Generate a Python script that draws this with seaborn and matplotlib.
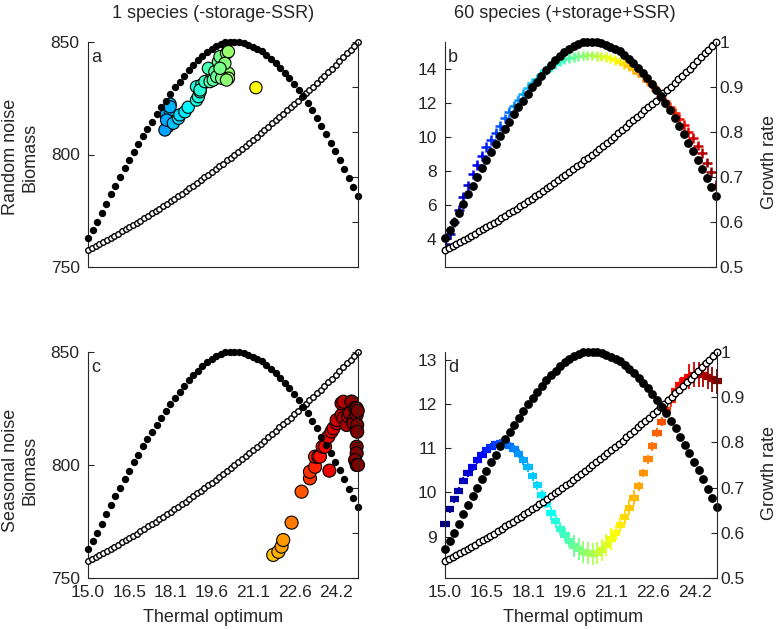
import numpy as np
import matplotlib
matplotlib.use("Agg")
import matplotlib.pyplot as plt
from matplotlib.colors import LinearSegmentedColormap
import seaborn as sns

# thermal optimum grids (evenly spaced species / growth curve samples)
species_x = np.linspace(15, 25, 60)
curve_x = np.linspace(15, 25, 73)

# growth rate of each species at the mean temperature (black dots, right axis)
growth_species = [0.564, 0.582, 0.600, 0.620, 0.641, 0.662, 0.681, 0.700, 0.719, 0.737,
                  0.756, 0.773, 0.791, 0.807, 0.823, 0.839, 0.855, 0.870, 0.885, 0.899,
                  0.912, 0.925, 0.937, 0.949, 0.959, 0.969, 0.978, 0.985, 0.991, 0.996,
                  0.999, 1.000, 1.000, 0.999, 0.997, 0.994, 0.990, 0.985, 0.979, 0.971,
                  0.963, 0.953, 0.943, 0.932, 0.920, 0.907, 0.893, 0.879, 0.864, 0.848,
                  0.831, 0.813, 0.795, 0.776, 0.757, 0.738, 0.718, 0.698, 0.678, 0.658]

# maximal growth rate vs thermal optimum (open circles, right axis)
growth_max = [0.538, 0.542, 0.547, 0.551, 0.556, 0.560, 0.565, 0.569, 0.574, 0.579,
              0.584, 0.588, 0.593, 0.598, 0.603, 0.609, 0.614, 0.619, 0.624, 0.630,
              0.635, 0.641, 0.646, 0.652, 0.657, 0.663, 0.669, 0.675, 0.681, 0.687,
              0.693, 0.699, 0.705, 0.711, 0.717, 0.724, 0.730, 0.737, 0.743, 0.750,
              0.756, 0.763, 0.770, 0.776, 0.783, 0.790, 0.797, 0.804, 0.811, 0.819,
              0.826, 0.833, 0.840, 0.848, 0.855, 0.863, 0.870, 0.878, 0.886, 0.894,
              0.901, 0.909, 0.917, 0.925, 0.933, 0.941, 0.950, 0.958, 0.966, 0.975,
              0.983, 0.992, 1.000]

# panel a: 1 species, random noise
a_opt = [18.04, 17.89, 17.96, 17.85, 18.06, 18.10, 17.91, 18.16, 18.04, 18.35,
         18.40, 18.59, 18.71, 19.02, 19.02, 19.09, 19.21, 19.15, 19.15, 19.33,
         19.52, 19.58, 19.64, 19.46, 19.70, 19.77, 19.83, 19.89, 20.13, 20.20,
         20.01, 20.20, 20.20, 19.95, 20.07, 19.89, 20.13, 21.22]
a_bio = [822.4, 817.6, 812.4, 810.9, 818.3, 814.6, 815.3, 813.9, 821.2, 816.1,
         817.6, 819.0, 821.0, 830.1, 824.2, 825.7, 830.9, 827.9, 828.7, 832.4,
         832.4, 836.8, 833.1, 838.3, 836.8, 834.6, 841.2, 843.5, 845.0, 845.7,
         837.6, 836.1, 833.9, 833.9, 840.5, 838.3, 833.1, 829.7]

# panel c: 1 species, seasonal noise
c_opt = [21.86, 22.05, 22.17, 22.23, 22.54, 22.91, 23.22, 23.22, 23.41, 23.41,
         23.53, 23.59, 23.69, 23.78, 23.90, 23.94, 24.02, 24.09, 24.21, 24.21,
         24.39, 24.39, 24.46, 24.46, 24.58, 24.64, 24.70, 24.76, 24.77, 24.83,
         24.83, 24.89, 24.95, 24.95, 24.95, 24.97, 24.97, 24.95, 24.95, 24.89,
         24.95, 25.00, 24.99]
c_bio = [760.2, 761.6, 763.9, 766.8, 774.5, 788.2, 794.1, 797.0, 799.2, 803.7,
         803.7, 803.7, 808.1, 808.1, 812.5, 797.5, 814.8, 816.2, 818.5, 819.9,
         822.1, 827.3, 828.0, 820.7, 817.7, 821.4, 822.9, 828.0, 828.0, 819.9,
         818.5, 825.2, 825.1, 822.1, 815.5, 817.7, 814.7, 808.1, 805.2, 802.2,
         800.0, 800.0, 824.0]

# panel b: 60 species, random noise
b_bio = [3.70, 4.30, 5.00, 5.70, 6.50, 7.15, 7.80, 8.35, 8.90, 9.40,
         9.85, 10.25, 10.65, 11.10, 11.50, 11.85, 12.20, 12.55, 12.90, 13.20,
         13.45, 13.72, 13.95, 14.15, 14.32, 14.47, 14.58, 14.66, 14.72, 14.77,
         14.80, 14.81, 14.81, 14.79, 14.75, 14.70, 14.63, 14.55, 14.45, 14.32,
         14.18, 14.00, 13.80, 13.58, 13.33, 13.07, 12.80, 12.45, 12.10, 11.75,
         11.40, 11.05, 10.70, 10.30, 9.95, 9.50, 9.05, 8.50, 7.95, 7.20]
b_err = [0.10] * 20 + [0.15] * 25 + [0.10] * 15

# panel d: 60 species, seasonal noise
d_bio = [9.28, 9.62, 9.85, 10.04, 10.26, 10.43, 10.57, 10.73, 10.85, 10.95,
         11.03, 11.09, 11.12, 11.11, 11.06, 10.98, 10.87, 10.73, 10.57, 10.37,
         10.16, 9.95, 9.74, 9.53, 9.35, 9.18, 9.04, 8.91, 8.80, 8.72,
         8.66, 8.63, 8.62, 8.64, 8.71, 8.81, 8.95, 9.09, 9.27, 9.45,
         9.66, 9.88, 10.14, 10.44, 10.75, 11.04, 11.35, 11.60, 11.85, 12.08,
         12.28, 12.43, 12.53, 12.61, 12.66, 12.67, 12.66, 12.61, 12.55, 12.51]
d_err = ([0.08] * 15 + [0.10] * 8 + [0.15] * 5 + [0.25] * 9 + [0.17] * 5
         + [0.10] * 6 + [0.15] * 5 + [0.28] * 7)

xtick_pos = [15.0, 16.53, 18.06, 19.59, 21.12, 22.65, 24.18]
xtick_lab = ['15.0', '16.5', '18.1', '19.6', '21.1', '22.6', '24.2']
rate_ticks = [0.5, 0.6, 0.7, 0.8, 0.9, 1.0]
rate_lab = ['0.5', '0.6', '0.7', '0.8', '0.9', '1']

sns.set_style("white")
ink = '#262626'
plt.rcParams['font.family'] = ['Liberation Sans', 'DejaVu Sans']
plt.rcParams['text.color'] = ink
plt.rcParams['axes.edgecolor'] = ink
plt.rcParams['xtick.color'] = ink
plt.rcParams['ytick.color'] = ink
FS = 13
TS = 12.5

W, H = 778, 630
fig = plt.figure(figsize=(W / 100, H / 100), dpi=100)
# MATLAB style jet (pure yellow / cyan at the quarter points)
jet = LinearSegmentedColormap.from_list('mjet', [
    (0.0, (0, 0, 0.5)), (0.125, (0, 0, 1)), (0.375, (0, 1, 1)),
    (0.625, (1, 1, 0)), (0.875, (1, 0, 0)), (1.0, (0.5, 0, 0))])


def box(l, t, r, b):
    return [l / W, 1 - b / H, (r - l) / W, (b - t) / H]


def panel(rect, ylim, yticks, letter, xlabels, rlabels, big):
    ax = fig.add_axes(rect)
    ax.set_xlim(15, 25)
    ax.set_ylim(*ylim)
    ax.set_yticks(yticks)
    if xlabels:
        ax.set_xticks(xtick_pos, xtick_lab)
    else:
        ax.set_xticks([])
    ax.tick_params(direction='in', length=4, width=0.8, labelsize=TS)
    ax.tick_params(axis='y', pad=6)
    ax.tick_params(axis='x', pad=5)
    for s in ['top', 'right']:
        ax.spines[s].set_visible(False)
    for s in ['left', 'bottom']:
        ax.spines[s].set_linewidth(0.8)
    ax.text(0.012, 0.97, letter, transform=ax.transAxes, fontsize=FS,
            ha='left', va='top')

    ax2 = ax.twinx()
    ax2.set_ylim(0.5, 1.0)
    ax2.set_yticks(rate_ticks, rate_lab if rlabels else [])
    ax2.tick_params(direction='in', length=4, width=0.8, labelsize=TS, pad=2.5)
    for s in ['top', 'left', 'bottom']:
        ax2.spines[s].set_visible(False)
    ax2.spines['right'].set_linewidth(0.8)
    so, sb = (22, 40) if big else (16, 28)
    sns.scatterplot(x=curve_x, y=growth_max, ax=ax2, color='white',
                    edgecolor='black', linewidth=1.0, s=so, legend=False,
                    clip_on=False)
    sns.scatterplot(x=species_x, y=growth_species, ax=ax2, color='black',
                    edgecolor='black', linewidth=0, s=sb, legend=False,
                    clip_on=False)
    return ax, ax2


# a
ax, _ = panel(box(88, 42, 358, 267), (750, 850), [750, 800, 850], 'a',
              False, False, False)
sns.scatterplot(x=a_opt, y=a_bio, hue=a_opt, palette=jet, hue_norm=(15, 25),
                s=78, edgecolor='black', linewidth=0.8, legend=False, ax=ax)

# b
ax, _ = panel(box(445, 42, 716, 267), (2.35, 15.6), [4, 6, 8, 10, 12, 14], 'b',
              False, True, True)
cols = jet((species_x - 15) / 10)
ax.vlines(species_x, np.array(b_bio) - b_err, np.array(b_bio) + b_err,
          colors=cols, linewidth=1.4)
sns.scatterplot(x=species_x, y=b_bio, hue=species_x, palette=jet,
                hue_norm=(15, 25), marker='+', s=50, linewidth=1.8,
                legend=False, ax=ax)

# c
ax, _ = panel(box(88, 352, 358, 578), (750, 850), [750, 800, 850], 'c',
              True, False, False)
sns.scatterplot(x=c_opt, y=c_bio, hue=c_opt, palette=jet, hue_norm=(15, 25),
                s=88, edgecolor='black', linewidth=0.8, legend=False, ax=ax,
                clip_on=False)

# d
ax, _ = panel(box(445, 352, 717, 578), (8.07, 13.17), [9, 10, 11, 12, 13], 'd',
              True, True, True)
ax.vlines(species_x, np.array(d_bio) - d_err, np.array(d_bio) + d_err,
          colors=cols, linewidth=1.3)
sns.scatterplot(x=species_x, y=d_bio, hue=species_x, palette=jet,
                hue_norm=(15, 25), marker='_', s=45, linewidth=4.5,
                legend=False, ax=ax, clip_on=False)


# titles and labels
def ftext(px, py, s, **kw):
    fig.text(px / W, 1 - py / H, s, fontsize=FS, ha='center', va='center', **kw)


ftext(213, 13, '1 species (-storage-SSR)')
ftext(565, 13, '60 species (+storage+SSR)')
ftext(20, 157, 'Random noise\nBiomass', rotation=90, multialignment='center')
ftext(20, 470, 'Seasonal noise\nBiomass', rotation=90, multialignment='center')
ftext(769, 162, 'Growth rate', rotation=90)
ftext(769, 473, 'Growth rate', rotation=90)
ftext(213, 618, 'Thermal optimum')
ftext(573, 618, 'Thermal optimum')

fig.savefig('out.png', dpi=100)
